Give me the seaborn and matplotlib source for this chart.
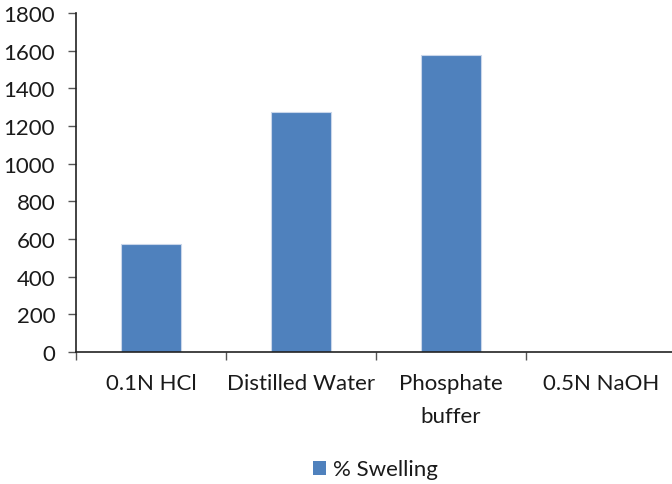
import matplotlib
matplotlib.use("Agg")
import matplotlib.pyplot as plt
from matplotlib.patches import Patch
import seaborn as sns
import pandas as pd

# Swelling study data
media = ["0.1N HCl", "Distilled Water", "Phosphate\nbuffer", "0.5N NaOH"]
swelling = [575, 1273, 1575, 0]
yticks = [0, 200, 400, 600, 800, 1000, 1200, 1400, 1600, 1800]
series_name = "% Swelling"

bar_color = "#4F81BD"
text_color = "#1a1a1a"
fs = 16

sns.set_theme(style="white")
plt.rcParams["font.family"] = ["Lato", "DejaVu Sans"]

df = pd.DataFrame({"Medium": media, "Swelling": swelling})

fig = plt.figure(figsize=(6.72, 4.85), dpi=100)
ax = fig.add_axes([76 / 672, 132 / 485, 600 / 672, 339 / 485])

sns.barplot(data=df, x="Medium", y="Swelling", color=bar_color, saturation=1,
            width=0.4, edgecolor="#C9D6EA", linewidth=0.8, ax=ax)

ax.set_xlim(-0.5, 3.5)
ax.set_ylim(0, 1800)
ax.set_yticks(yticks)
ax.set_yticklabels([str(v) for v in yticks], fontsize=fs, color=text_color)

# category labels sit between boundary tick marks
ax.set_xticks([-0.5, 0.5, 1.5, 2.5, 3.5])
ax.set_xticklabels([])
ax.set_xticks(range(len(media)), minor=True)
ax.set_xticklabels(media, minor=True, fontsize=fs, color=text_color,
                   linespacing=1.85, va="top")
ax.tick_params(axis="x", which="major", length=6, width=1, color="#555555",
               direction="out", bottom=True)
ax.tick_params(axis="x", which="minor", length=0, pad=15, bottom=True)
ax.tick_params(axis="y", length=6, width=1, color="#555555", direction="out",
               pad=9, left=True)

ax.set_xlabel("")
ax.set_ylabel("")
for side in ["top", "right"]:
    ax.spines[side].set_visible(False)
for side in ["left", "bottom"]:
    ax.spines[side].set_color("#222222")
    ax.spines[side].set_linewidth(1.2)

handle = Patch(facecolor=bar_color, edgecolor="none")
fig.legend([handle], [series_name], loc="center", bbox_to_anchor=(0.558, 0.03),
           frameon=False, fontsize=fs, handlelength=0.6, handleheight=0.6,
           handletextpad=0.3, labelcolor=text_color)

fig.savefig("out.png", dpi=100)
